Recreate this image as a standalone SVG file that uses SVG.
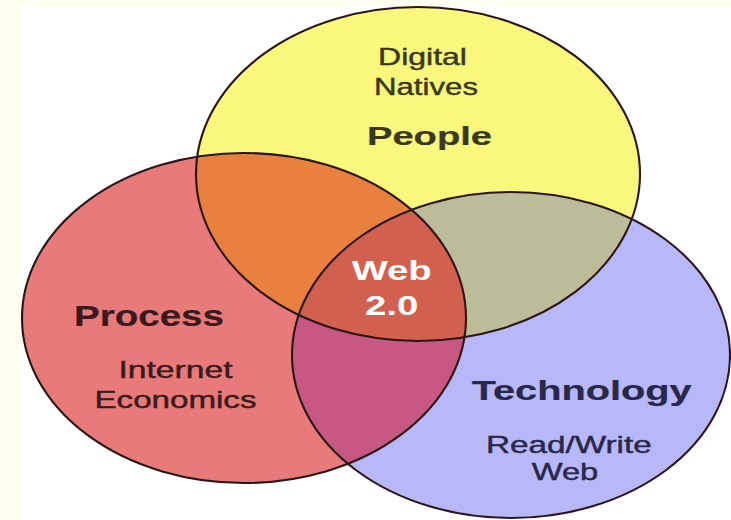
<svg xmlns="http://www.w3.org/2000/svg" width="731" height="520" viewBox="0 0 731 520">
<style>
  text { font-family: "Liberation Sans", Arial, sans-serif; text-anchor: middle; }
  .sm { font-size: 24.5px; stroke-width: 0.45; }
  .bd { font-weight: bold; }
  .ty { fill: #3b391d; stroke: #3b391d; }
  .tr { fill: #3a1a1c; stroke: #3a1a1c; }
  .tb { fill: #28284a; stroke: #28284a; }
  .bd.ty, .bd.tr, .bd.tb { stroke-width: 0.2; }
  .tw { fill: #ffffff; font-weight: bold; font-size: 28px; }
  .line { fill: none; stroke: #2a1616; stroke-width: 2.1; }
</style>
<defs>
  <clipPath id="clipY"><ellipse cx="418" cy="174" rx="222" ry="167"/></clipPath>
  <clipPath id="clipR"><ellipse cx="244" cy="318" rx="222" ry="165"/></clipPath>
</defs>
<rect x="0" y="0" width="731" height="520" fill="#fffff0"/>
<rect x="20" y="5" width="711" height="515" fill="#ffffff"/>

<g id="people">
  <ellipse cx="418" cy="174" rx="222" ry="167" fill="#f9f77c"/>
  <text class="sm ty" x="422.5" y="65" textLength="89" lengthAdjust="spacingAndGlyphs">Digital</text>
  <text class="sm ty" x="426" y="95" textLength="104" lengthAdjust="spacingAndGlyphs">Natives</text>
  <text class="bd ty" x="429.5" y="145" font-size="25.5" textLength="125" lengthAdjust="spacingAndGlyphs">People</text>
</g>

<g id="process">
  <ellipse cx="244" cy="318" rx="222" ry="165" fill="#e87a7a"/>
  <text class="bd tr" x="149" y="325.5" font-size="29" textLength="150" lengthAdjust="spacingAndGlyphs">Process</text>
  <text class="sm tr" x="175.5" y="378.3" textLength="114" lengthAdjust="spacingAndGlyphs">Internet</text>
  <text class="sm tr" x="175.5" y="408.3" textLength="162" lengthAdjust="spacingAndGlyphs">Economics</text>
</g>

<g id="technology">
  <ellipse cx="511" cy="355" rx="219" ry="163" fill="#b8b8f8"/>
  <text class="bd tb" x="581.7" y="400" font-size="28" textLength="220" lengthAdjust="spacingAndGlyphs">Technology</text>
  <text class="sm tb" x="568.8" y="453.3" textLength="165.7" lengthAdjust="spacingAndGlyphs">Read/Write</text>
  <text class="sm tb" x="565" y="480" textLength="66.6" lengthAdjust="spacingAndGlyphs">Web</text>
</g>

<g id="overlaps">
  <ellipse cx="244" cy="318" rx="222" ry="165" fill="#e8803e" clip-path="url(#clipY)"/>
  <ellipse cx="511" cy="355" rx="219" ry="163" fill="#bdbc98" clip-path="url(#clipY)"/>
  <ellipse cx="511" cy="355" rx="219" ry="163" fill="#c75882" clip-path="url(#clipR)"/>
  <g clip-path="url(#clipY)">
    <ellipse cx="511" cy="355" rx="219" ry="163" fill="#d2604f" clip-path="url(#clipR)"/>
  </g>
</g>

<g id="connectors">
  <ellipse class="line" cx="418" cy="174" rx="222" ry="167"/>
  <ellipse class="line" cx="244" cy="318" rx="222" ry="165"/>
  <ellipse class="line" cx="511" cy="355" rx="219" ry="163"/>
</g>

<g id="web20">
  <text class="tw" x="391.7" y="280" textLength="80" lengthAdjust="spacingAndGlyphs">Web</text>
  <text class="tw" x="391.7" y="315" textLength="53.3" lengthAdjust="spacingAndGlyphs">2.0</text>
</g>
</svg>
